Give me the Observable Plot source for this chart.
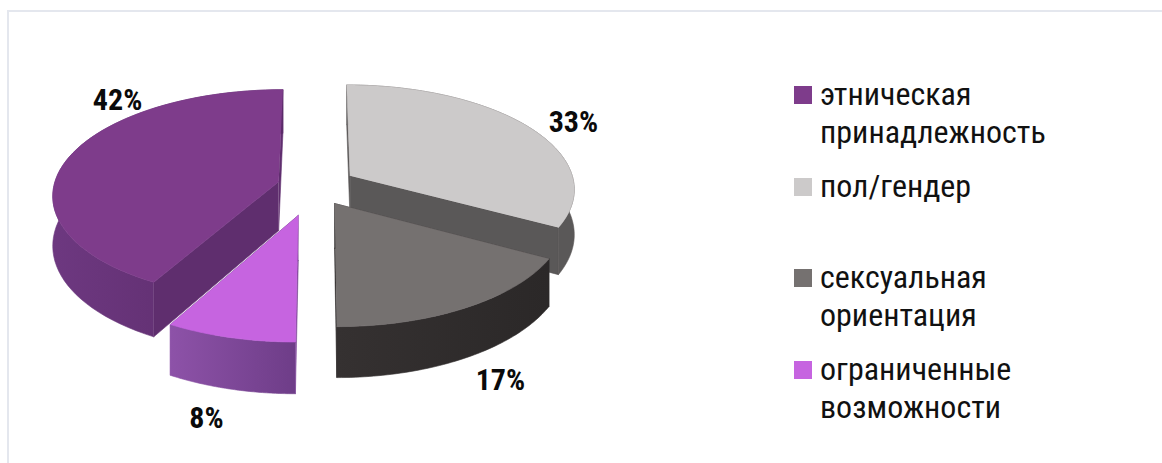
<!DOCTYPE html>
<html lang="ru"><head><meta charset="utf-8">
<script src="https://cdn.jsdelivr.net/npm/d3@7"></script>
<script src="https://cdn.jsdelivr.net/npm/@observablehq/plot@0.6"></script>
<style>
html,body{margin:0;padding:0;background:#fff;}
#frame{position:relative;width:1162px;height:463px;overflow:hidden;}
#frame svg{position:absolute;left:0;top:0;}
#edge{position:absolute;left:7px;top:10px;right:0;bottom:0;border-left:2px solid #e4e7ee;border-top:2px solid #e4e7ee;}
#legend{position:absolute;left:0;top:0;font-family:"Roboto Condensed","Liberation Sans Narrow",Roboto,sans-serif;font-size:32px;line-height:38px;color:#111;}
.item{position:absolute;left:820px;white-space:pre;}
.sw{position:absolute;left:794px;width:18px;height:18px;}
g[aria-label="line"]{filter:blur(.45px);}
</style></head><body>
<div id="frame"><div id="edge"></div><div id="legend"></div></div>
<script>
const categories=["пол/гендер","сексуальная ориентация","ограниченные возможности","этническая принадлежность"];
const values=[33,17,8,42];
const labels=["33%","17%","8%","42%"];
const topColors=["#cccaca","#757170","#c664e0","#7e3c8b"];
const wallColors=["#5a5858","#2f2c2c","url(#gLight)","#5f2e6e"];
const rimColors=["#5a5858","url(#gDark)","url(#gLight)","url(#gPurple)"];
const legendOrder=[3,0,1,2];
const legendLines=[["этническая","принадлежность"],["пол/гендер"],["сексуальная","ориентация"],["ограниченные","возможности"]];

// projection settings of the 3-D pie, in disc units
const W=1162,H=463,cx=318,cy=190,rx=226,ry=105,persp=0.12;
const depths=[.43,.42,.42,.47];
const explode=[[.142,.143],[.07,-.122],[-.087,-.23],[-.178,.085]];
const paint=[0,3,1,2];
const labelSpot=[[1.128,.648],[.805,-1.81],[-.496,-2.17],[-.889,.857]];

const sc=(Y)=>1/(1+persp*Y);
const proj=(X,Y,z=0)=>{const s=sc(Y);return {x:X*s,y:Y*s-z*s};};
const total=d3.sum(values);
let acc=0;
const slices=values.map((v,i)=>{const a0=acc/total*2*Math.PI;acc+=v;const a1=acc/total*2*Math.PI;return {i,a0,a1};});

function rim(s,z){const [ex,ey]=explode[s.i];const n=60;const pts=[];
  for(let k=0;k<=n;k++){const a=s.a0+(s.a1-s.a0)*k/n;pts.push(proj(ex+Math.sin(a),ey+Math.cos(a),z));}
  return pts;}
function wall(s,a,d){const [ex,ey]=explode[s.i];
  return [proj(ex,ey,0),proj(ex+Math.sin(a),ey+Math.cos(a),0),proj(ex+Math.sin(a),ey+Math.cos(a),d),proj(ex,ey,d)];}
const poly=(pts,fill)=>Plot.line(pts,{x:"x",y:"y",fill,stroke:fill,strokeWidth:.6,curve:"linear"});

const marks=[()=>{
  const ns="http://www.w3.org/2000/svg";const defs=document.createElementNS(ns,"defs");
  defs.innerHTML=`
  <linearGradient id="gLight" x1="0" x2="1" y1="0" y2="0"><stop offset="0" stop-color="#8d52a8"/><stop offset="1" stop-color="#6e3d88"/></linearGradient>
  <linearGradient id="gDark" x1="0" x2="1" y1="0" y2="0"><stop offset="0" stop-color="#353131"/><stop offset="1" stop-color="#2b2828"/></linearGradient>
  <linearGradient id="gPurple" x1="0" x2="1" y1="0" y2="0"><stop offset="0" stop-color="#6d3880"/><stop offset="1" stop-color="#5a2a68"/></linearGradient>`;
  return defs;}];
for(const i of paint){const s=slices[i],d=depths[i];
  marks.push(poly(wall(s,s.a0,d),wallColors[i]));
  marks.push(poly(wall(s,s.a1,d),wallColors[i]));
  marks.push(poly([...rim(s,0),...rim(s,d).reverse()],rimColors[i]));
  const [ex,ey]=explode[i];
  marks.push(poly([proj(ex,ey),...rim(s,0)],topColors[i]));
}
marks.push(Plot.text(labels.map((t,i)=>({t,x:labelSpot[i][0],y:labelSpot[i][1]})),{x:"x",y:"y",text:"t",fontSize:30,fontWeight:700,fill:"#0a0a0a",fontFamily:'"Roboto Condensed","Liberation Sans Narrow",Roboto,sans-serif'}));

const chart=Plot.plot({width:W,height:H,margin:0,style:{background:"transparent",overflow:"visible"},
  x:{domain:[-cx/rx,(W-cx)/rx],range:[0,W],axis:null},
  y:{domain:[(cy-H)/ry,cy/ry],range:[H,0],axis:null},
  marks});
document.getElementById("frame").insertBefore(chart,document.getElementById("legend"));

const legend=document.getElementById("legend");
const tops=[75,167,258,350];
legendOrder.forEach((c,j)=>{
  const sw=document.createElement("div");sw.className="sw";sw.style.top=(tops[j]+11)+"px";sw.style.background=topColors[c];legend.appendChild(sw);
  const t=document.createElement("div");t.className="item";t.style.top=tops[j]+"px";t.textContent=legendLines[j].join("\n");legend.appendChild(t);
});
</script></body></html>
